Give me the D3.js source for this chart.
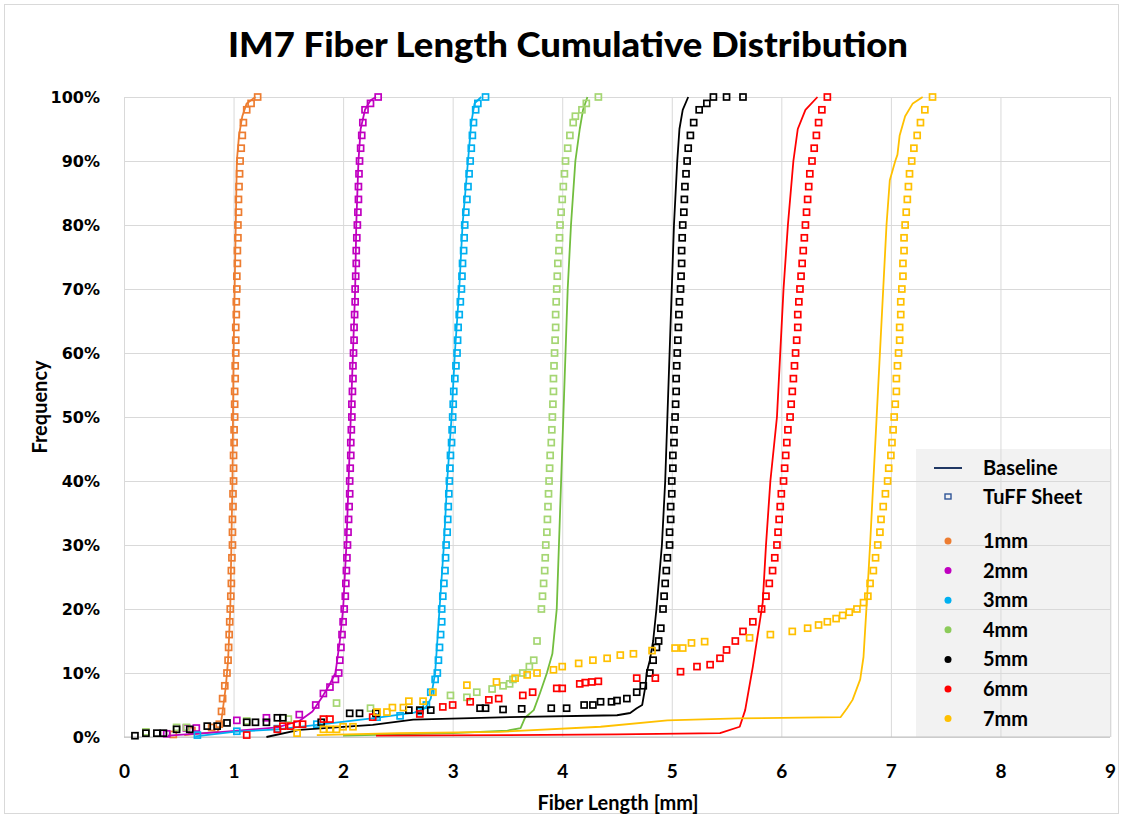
<!DOCTYPE html>
<html>
<head>
<meta charset="utf-8">
<script src="https://d3js.org/d3.v7.min.js"></script>
<style>
body { margin: 0; background: #fff; }
text { font-family: Lato, "Open Sans", sans-serif; font-weight: bold; fill: #000; }
</style>
</head>
<body>
<script>
// categories and styling per fiber length
var sizes = ["1mm", "2mm", "3mm", "4mm", "5mm", "6mm", "7mm"];
var lineColors = ["#ED7D31", "#C000C0", "#00B0F0", "#72BE3E", "#000000", "#FF0000", "#FFC000"];
var squareColors = ["#ED7D31", "#C000C0", "#00B0F0", "#A5D673", "#000000", "#FF0000", "#FFC000"];
var xTicks = [0, 1, 2, 3, 4, 5, 6, 7, 8, 9];
var yTicks = [0, 10, 20, 30, 40, 50, 60, 70, 80, 90, 100];
var legendLabels = ["Baseline", "TuFF Sheet"];

// Baseline curves  [fiber length mm, cumulative %]
var baseline1mm = [[0.55,0.3],[0.85,0.8],[0.88,1.5],[0.9,4],[0.93,8],[0.95,12],[0.97,20],[0.98,30],[0.99,40],[0.995,50],[1.0,60],[1.01,70],[1.02,80],[1.03,90],[1.05,94],[1.08,97],[1.12,99],[1.2,100]];
var baseline2mm = [[0.4,0.2],[0.9,0.8],[1.4,1.5],[1.6,2.5],[1.72,4],[1.8,6],[1.87,8],[1.93,10],[1.97,15],[2.0,20],[2.03,30],[2.05,40],[2.07,50],[2.09,60],[2.11,70],[2.12,80],[2.14,90],[2.16,95],[2.2,98],[2.25,99.5],[2.3,100]];
var baseline3mm = [[0.65,0.1],[1.0,0.8],[1.4,1.2],[1.76,1.9],[2.3,3.0],[2.65,3.8],[2.75,4.5],[2.8,6],[2.84,10],[2.88,20],[2.92,30],[2.95,40],[2.99,50],[3.02,60],[3.06,70],[3.09,80],[3.14,90],[3.17,96],[3.2,99],[3.26,100]];
var baseline4mm = [[2.0,0.2],[3.0,0.6],[3.5,1.0],[3.62,1.4],[3.66,3],[3.74,4.2],[3.8,7],[3.86,10],[3.91,13],[3.95,20],[3.97,30],[3.99,40],[4.01,50],[4.03,60],[4.05,70],[4.08,80],[4.12,90],[4.16,95],[4.19,98],[4.23,100]];
var baseline5mm = [[1.3,0],[1.6,1.1],[2.27,1.9],[2.64,2.7],[3.52,3.1],[4.5,3.4],[4.62,3.75],[4.68,4.5],[4.73,5],[4.76,8],[4.77,10],[4.8,12],[4.83,15],[4.86,20],[4.91,30],[4.94,40],[4.96,50],[4.98,60],[5.0,70],[5.02,80],[5.05,90],[5.07,95],[5.1,98],[5.15,100]];
var baseline6mm = [[2.3,0.2],[3.5,0.3],[4.5,0.4],[5.44,0.6],[5.62,1.6],[5.67,4.2],[5.74,11],[5.83,21],[5.86,30],[5.9,40],[5.96,50],[5.99,60],[6.02,70],[6.06,80],[6.11,90],[6.15,95],[6.22,98],[6.33,100]];
var baseline7mm = [[1.76,0.3],[2.5,0.6],[3.43,0.8],[4.35,1.6],[4.96,2.6],[5.6,2.9],[6.54,3.1],[6.6,4.5],[6.65,5.8],[6.72,9],[6.75,12.5],[6.78,21],[6.81,30],[6.84,40],[6.87,50],[6.9,60],[6.93,70],[6.96,80],[6.99,87],[7.04,90],[7.06,91],[7.08,94],[7.13,97],[7.2,99],[7.29,100]];

// TuFF Sheet measurements  [fiber length mm, cumulative %]
var tuff1mm = [[0.45,0.4],[0.62,1.0],[0.8,1.5],[0.87,2],[0.89,4],[0.9,6],[0.92,8],[0.94,10],[0.95,12],[0.955,14],[0.96,16],[0.965,18],[0.97,20],[0.975,22],[0.98,24],[0.98,26],[0.985,28],[0.99,30],[0.99,32],[0.99,34],[0.995,36],[0.995,38],[1.0,40],[1.0,42],[1.0,44],[1.005,46],[1.005,48],[1.01,50],[1.01,52],[1.01,54],[1.015,56],[1.015,58],[1.02,60],[1.02,62],[1.02,64],[1.025,66],[1.025,68],[1.03,70],[1.03,72],[1.035,74],[1.035,76],[1.04,78],[1.04,80],[1.045,82],[1.045,84],[1.05,86],[1.055,88],[1.06,90],[1.07,92],[1.08,94],[1.09,96],[1.12,98],[1.16,99],[1.22,100]];
var tuff2mm = [[0.39,0.5],[0.57,1.4],[0.66,1.4],[1.03,2.6],[1.3,3],[1.6,3.5],[1.75,5],[1.82,6.8],[1.88,7.8],[1.93,9],[1.96,10],[1.97,12],[1.98,14],[1.99,16],[2.0,18],[2.01,20],[2.02,22],[2.025,24],[2.03,26],[2.035,28],[2.04,30],[2.045,32],[2.05,34],[2.055,36],[2.06,38],[2.06,40],[2.065,42],[2.07,44],[2.07,46],[2.075,48],[2.08,50],[2.08,52],[2.085,54],[2.09,56],[2.09,58],[2.095,60],[2.1,62],[2.1,64],[2.105,66],[2.11,68],[2.11,70],[2.115,72],[2.12,74],[2.12,76],[2.125,78],[2.13,80],[2.135,82],[2.14,84],[2.14,86],[2.145,88],[2.15,90],[2.16,92],[2.17,94],[2.18,96],[2.2,98],[2.25,99],[2.32,100]];
var tuff3mm = [[0.67,0.3],[1.03,0.9],[1.4,1.3],[1.76,2.0],[2.31,3.1],[2.52,3.3],[2.7,4],[2.76,5],[2.8,7],[2.84,9],[2.86,10],[2.87,12],[2.88,14],[2.89,16],[2.9,18],[2.9,20],[2.91,22],[2.92,24],[2.93,26],[2.935,28],[2.94,30],[2.95,32],[2.955,34],[2.96,36],[2.965,38],[2.97,40],[2.975,42],[2.98,44],[2.99,46],[2.995,48],[3.0,50],[3.005,52],[3.01,54],[3.02,56],[3.03,58],[3.04,60],[3.045,62],[3.05,64],[3.06,66],[3.07,68],[3.08,70],[3.085,72],[3.09,74],[3.1,76],[3.105,78],[3.11,80],[3.12,82],[3.13,84],[3.14,86],[3.15,88],[3.16,90],[3.17,92],[3.18,94],[3.19,96],[3.21,98],[3.23,99],[3.3,100]];
var tuff4mm = [[0.2,0.8],[0.48,1.5],[0.57,1.5],[1.12,2.5],[1.5,2.8],[1.94,5.3],[2.25,4.5],[2.98,6.5],[3.13,6.2],[3.22,7],[3.36,7.5],[3.46,8],[3.52,8.3],[3.55,9],[3.64,10],[3.7,11],[3.74,12],[3.77,15],[3.81,20],[3.82,22],[3.83,24],[3.84,26],[3.845,28],[3.85,30],[3.86,32],[3.865,34],[3.87,36],[3.875,38],[3.88,40],[3.885,42],[3.89,44],[3.9,46],[3.905,48],[3.91,50],[3.915,52],[3.92,54],[3.92,56],[3.925,58],[3.93,60],[3.935,62],[3.94,64],[3.94,66],[3.945,68],[3.95,70],[3.955,72],[3.96,74],[3.97,76],[3.975,78],[3.98,80],[3.99,82],[4.0,84],[4.01,86],[4.02,88],[4.03,90],[4.05,92],[4.07,94],[4.1,96],[4.12,97],[4.18,98],[4.22,99],[4.33,100]];
var tuff5mm = [[0.1,0.2],[0.2,0.6],[0.3,0.6],[0.36,0.6],[0.48,1.2],[0.6,1.2],[0.76,1.7],[0.85,1.7],[0.94,2.2],[1.12,2.3],[1.2,2.3],[1.3,2.3],[1.4,3],[1.45,3],[1.8,2.3],[2.06,3.7],[2.15,3.7],[2.3,3.7],[2.6,4.2],[2.7,4.2],[2.8,4.2],[3.25,4.5],[3.3,4.5],[3.46,4.3],[3.63,4.4],[3.9,4.5],[4.04,4.5],[4.2,5],[4.28,5],[4.35,5.5],[4.45,5.5],[4.5,5.7],[4.59,6],[4.68,7],[4.74,8],[4.8,10],[4.83,12],[4.86,14],[4.88,15],[4.9,17],[4.92,20],[4.93,22],[4.94,24],[4.95,26],[4.96,28],[4.98,30],[4.98,32],[4.99,34],[4.99,36],[5.0,38],[5.0,40],[5.01,42],[5.01,44],[5.02,46],[5.02,48],[5.03,50],[5.035,52],[5.04,54],[5.04,56],[5.045,58],[5.05,60],[5.055,62],[5.06,64],[5.065,66],[5.07,68],[5.08,70],[5.085,72],[5.09,74],[5.09,76],[5.095,78],[5.1,80],[5.11,82],[5.115,84],[5.12,86],[5.13,88],[5.14,90],[5.15,92],[5.17,94],[5.2,96],[5.25,98],[5.32,99],[5.38,100],[5.5,100],[5.65,100]];
var tuff6mm = [[1.12,0.3],[1.4,1.2],[1.45,1.7],[1.52,1.7],[1.58,2],[1.63,2],[1.82,2.8],[1.88,2.8],[2.27,3.1],[2.7,3.6],[2.91,4.7],[3.0,5],[3.16,5.5],[3.33,5.8],[3.42,6],[3.64,6.5],[3.73,7],[3.95,7.6],[4.0,7.6],[4.16,8.3],[4.21,8.5],[4.27,8.6],[4.33,8.7],[4.68,9.2],[4.85,9.2],[5.08,10.2],[5.23,11],[5.35,11.3],[5.44,12.3],[5.5,13.6],[5.58,15],[5.65,16.5],[5.74,18],[5.82,20],[5.86,22],[5.89,24],[5.92,26],[5.94,28],[5.96,30],[5.97,32],[5.98,34],[5.99,36],[6.0,38],[6.02,40],[6.03,42],[6.04,44],[6.05,46],[6.06,48],[6.08,50],[6.09,52],[6.1,54],[6.11,56],[6.12,58],[6.13,60],[6.14,62],[6.15,64],[6.15,66],[6.16,68],[6.17,70],[6.18,72],[6.19,74],[6.2,76],[6.21,78],[6.22,80],[6.23,82],[6.24,84],[6.25,86],[6.26,88],[6.28,90],[6.3,92],[6.32,94],[6.34,96],[6.37,98],[6.42,100]];
var tuff7mm = [[1.58,0.6],[1.82,1.2],[1.88,1.2],[1.94,1.2],[2.0,1.6],[2.09,1.6],[2.31,3.9],[2.4,3.9],[2.45,4.6],[2.55,4.6],[2.6,5.6],[2.73,5.6],[2.82,7],[3.13,8.1],[3.4,8.6],[3.57,9.2],[3.68,9.7],[3.77,10],[3.92,10.5],[4.0,11],[4.15,11.5],[4.28,12],[4.41,12.3],[4.53,12.8],[4.65,13],[4.82,13.5],[5.03,13.9],[5.1,13.9],[5.18,14.7],[5.3,14.9],[5.71,15.5],[5.9,16],[6.1,16.5],[6.24,17],[6.34,17.5],[6.42,18],[6.5,18.5],[6.56,19],[6.62,19.5],[6.69,20],[6.75,21],[6.79,22],[6.81,24],[6.84,26],[6.86,28],[6.88,30],[6.9,32],[6.91,34],[6.93,36],[6.95,38],[6.97,40],[6.98,42],[7.0,44],[7.01,46],[7.02,48],[7.03,50],[7.04,52],[7.05,54],[7.05,56],[7.06,58],[7.07,60],[7.08,62],[7.08,64],[7.09,66],[7.09,68],[7.1,70],[7.11,72],[7.11,74],[7.12,76],[7.12,78],[7.13,80],[7.14,82],[7.15,84],[7.16,86],[7.17,88],[7.19,90],[7.21,92],[7.24,94],[7.27,96],[7.31,98],[7.38,100]];

var baselines = [baseline1mm, baseline2mm, baseline3mm, baseline4mm, baseline5mm, baseline6mm, baseline7mm];
var tuffs = [tuff1mm, tuff2mm, tuff3mm, tuff4mm, tuff5mm, tuff6mm, tuff7mm];

var width = 1123, height = 818;
var margin = {top: 97, right: 13, bottom: 81, left: 124};

var svg = d3.select("body").append("svg")
  .attr("width", width)
  .attr("height", height);

// outer chart border
svg.append("rect")
  .attr("x", 4.5).attr("y", 4.5)
  .attr("width", width - 9).attr("height", height - 9)
  .attr("fill", "#fff").attr("stroke", "#d9d9d9");

var x = d3.scaleLinear().domain([0, 9]).range([margin.left, width - margin.right]);
var y = d3.scaleLinear().domain([0, 100]).range([height - margin.bottom, margin.top]);

// legend background sits under the grid
var legendX = 916, legendY = 449;
svg.append("rect")
  .attr("x", legendX).attr("y", legendY)
  .attr("width", x(9) - legendX + 2).attr("height", y(0) - legendY)
  .attr("fill", "#f2f2f2");

// gridlines
svg.append("g")
  .attr("transform", "translate(0," + y(0) + ")")
  .call(d3.axisBottom(x).tickValues(xTicks).tickSize(-(y(0) - y(100))).tickFormat(""))
  .call(function(g) { g.select(".domain").remove(); })
  .selectAll("line").attr("stroke", "#d9d9d9");

svg.append("g")
  .attr("transform", "translate(" + x(0) + ",0)")
  .call(d3.axisLeft(y).tickValues(yTicks).tickSize(-(x(9) - x(0))).tickFormat(""))
  .call(function(g) { g.select(".domain").remove(); })
  .selectAll("line").attr("stroke", "#d9d9d9");

// axis line
svg.append("line")
  .attr("x1", x(0)).attr("x2", x(9)).attr("y1", y(0)).attr("y2", y(0))
  .attr("stroke", "#bfbfbf").attr("stroke-width", 1.2);

// tick labels
var xAxis = svg.append("g")
  .attr("transform", "translate(0," + (y(0) + 24) + ")")
  .call(d3.axisBottom(x).tickValues(xTicks).tickSize(0).tickFormat(d3.format("d")));
xAxis.select(".domain").remove();
xAxis.selectAll("text")
  .style("font-family", "Lato, sans-serif")
  .style("font-weight", "bold")
  .style("font-size", "19px");

var yAxis = svg.append("g")
  .attr("transform", "translate(" + (x(0) - 21) + ",0)")
  .call(d3.axisLeft(y).tickValues(yTicks).tickSize(0).tickFormat(function(d) { return d + "%"; }));
yAxis.select(".domain").remove();
yAxis.selectAll("text")
  .style("font-family", "'DejaVu Sans', Verdana, sans-serif")
  .style("font-weight", "bold")
  .style("font-size", "16px")
  .attr("dy", "0.36em");

// data
var line = d3.line()
  .x(function(d) { return x(d[0]); })
  .y(function(d) { return y(d[1]); });

var plot = svg.append("g");
sizes.forEach(function(s, i) {
  plot.append("path")
    .datum(baselines[i])
    .attr("d", line)
    .attr("fill", "none")
    .attr("stroke", lineColors[i])
    .attr("stroke-width", 1.8)
    .attr("stroke-linejoin", "round");

  plot.append("g").selectAll("rect")
    .data(tuffs[i])
    .enter().append("rect")
    .attr("x", function(d) { return x(d[0]) - 3; })
    .attr("y", function(d) { return y(d[1]) - 3; })
    .attr("width", 6)
    .attr("height", 6)
    .attr("fill", "none")
    .attr("stroke", squareColors[i])
    .attr("stroke-width", 1.7);
});

// legend entries
var lx = 948, tx = 983;
svg.append("line")
  .attr("x1", lx - 14).attr("x2", lx + 14).attr("y1", 468).attr("y2", 468)
  .attr("stroke", "#203864").attr("stroke-width", 2);
svg.append("rect")
  .attr("x", lx - 3).attr("y", 494).attr("width", 6).attr("height", 5)
  .attr("fill", "none").attr("stroke", "#2F5597").attr("stroke-width", 1.4);
svg.selectAll(".legTop")
  .data(legendLabels)
  .enter().append("text")
  .attr("x", tx)
  .attr("y", function(d, i) { return 468 + i * 29; })
  .attr("dy", "0.35em")
  .style("font-size", "20px")
  .text(function(d) { return d; });

var legRows = svg.selectAll(".legRow")
  .data(sizes)
  .enter().append("g")
  .attr("transform", function(d, i) { return "translate(0," + (541 + i * 29.6) + ")"; });
legRows.append("circle")
  .attr("cx", lx).attr("cy", 0).attr("r", 3.5)
  .attr("fill", function(d, i) { return lineColors[i] === "#72BE3E" ? "#8CCB5A" : lineColors[i]; });
legRows.append("text")
  .attr("x", tx).attr("y", 0).attr("dy", "0.35em")
  .style("font-size", "20px")
  .text(function(d) { return d; });

// titles
svg.append("text")
  .attr("x", 568).attr("y", 45)
  .attr("text-anchor", "middle")
  .attr("dy", "0.35em")
  .attr("textLength", 680)
  .attr("lengthAdjust", "spacingAndGlyphs")
  .style("font-size", "34px")
  .style("font-weight", "900")
  .text("IM7 Fiber Length Cumulative Distribution");

svg.append("text")
  .attr("x", 618).attr("y", 803)
  .attr("text-anchor", "middle")
  .attr("dy", "0.35em")
  .style("font-size", "20px")
  .text("Fiber Length [mm]");

svg.append("text")
  .attr("transform", "translate(40," + 407 + ") rotate(-90)")
  .attr("text-anchor", "middle")
  .attr("dy", "0.35em")
  .style("font-size", "20px")
  .text("Frequency");
</script>
</body>
</html>
